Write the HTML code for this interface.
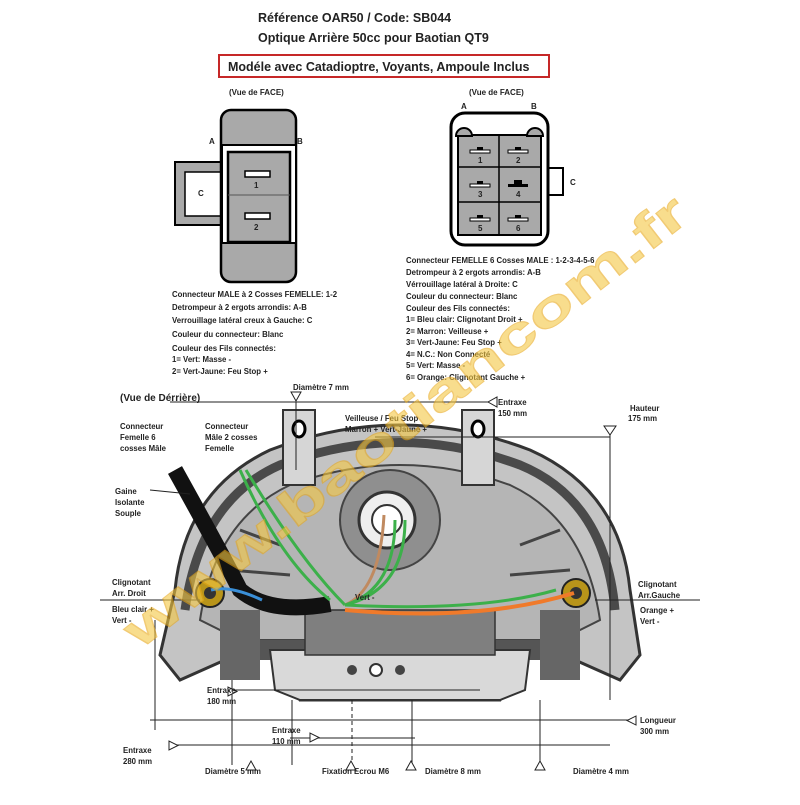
<!DOCTYPE html>
<html><head><meta charset="utf-8"><style>
html,body{margin:0;padding:0;background:#fff}
svg text{font-family:"Liberation Sans",sans-serif;font-weight:bold;fill:#222}
</style></head><body>
<svg width="800" height="800" viewBox="0 0 800 800" xmlns="http://www.w3.org/2000/svg">
<rect width="800" height="800" fill="#fff"/>
<text x="258" y="22" font-size="12.5">Référence OAR50 / Code: SB044</text>
<text x="258" y="42" font-size="12.5">Optique Arrière 50cc pour Baotian QT9</text>
<rect x="219" y="55" width="330" height="22" fill="none" stroke="#c62828" stroke-width="2"/>
<text x="228" y="71" font-size="12.5">Modéle avec Catadioptre, Voyants, Ampoule Inclus</text>

<text x="229" y="95" font-size="8">(Vue de FACE)</text>
<rect x="175" y="162" width="47" height="63" fill="#a9a9a9" stroke="#000" stroke-width="2"/>
<rect x="185" y="172" width="37" height="44" fill="#fff" stroke="#000" stroke-width="1.5"/>
<text x="198" y="196" font-size="8">C</text>
<rect x="221" y="110" width="75" height="172" rx="10" fill="#a9a9a9" stroke="#000" stroke-width="2.5"/>
<path d="M222 145 L296 145 L296 243 L222 243 Z" fill="#fff" stroke="#000" stroke-width="2"/>
<rect x="228" y="152" width="62" height="90" fill="#a9a9a9" stroke="#000" stroke-width="2.5"/>
<line x1="228" y1="195" x2="290" y2="195" stroke="#555" stroke-width="1"/>
<rect x="245" y="171" width="25" height="6" fill="#fff" stroke="#000" stroke-width="1.5"/>
<rect x="245" y="213" width="25" height="6" fill="#fff" stroke="#000" stroke-width="1.5"/>
<text x="254" y="188" font-size="8">1</text><text x="254" y="230" font-size="8">2</text>
<text x="209" y="144" font-size="8">A</text><text x="297" y="144" font-size="8">B</text>

<text x="469" y="95" font-size="8">(Vue de FACE)</text>
<text x="461" y="109" font-size="8">A</text><text x="531" y="109" font-size="8">B</text>
<rect x="546" y="168" width="17" height="27" fill="#fff" stroke="#000" stroke-width="2"/>
<text x="570" y="185" font-size="8">C</text>
<rect x="451" y="113" width="97" height="132" rx="14" fill="#fff" stroke="#000" stroke-width="3"/>
<rect x="458" y="135" width="83" height="100" fill="#a9a9a9" stroke="#000" stroke-width="2"/>
<line x1="499" y1="135" x2="499" y2="235" stroke="#000" stroke-width="1.5"/>
<line x1="458" y1="167" x2="541" y2="167" stroke="#000" stroke-width="1.5"/>
<line x1="458" y1="202" x2="541" y2="202" stroke="#000" stroke-width="1.5"/>
<path d="M456 136 a8 8 0 0 1 16 0 Z M527 136 a8 8 0 0 1 16 0Z" fill="#a9a9a9" stroke="#000" stroke-width="2"/>
<g fill="#fff" stroke="#000" stroke-width="1">
<rect x="470" y="150" width="20" height="3"/><rect x="508" y="150" width="20" height="3"/>
<rect x="470" y="184" width="20" height="3"/><rect x="470" y="218" width="20" height="3"/><rect x="508" y="218" width="20" height="3"/>
</g>
<rect x="508" y="184" width="20" height="3" fill="#000"/>
<g fill="#000"><rect x="477" y="147" width="6" height="3"/><rect x="515" y="147" width="6" height="3"/><rect x="477" y="181" width="6" height="3"/><rect x="514" y="180" width="8" height="4"/><rect x="477" y="215" width="6" height="3"/><rect x="515" y="215" width="6" height="3"/></g>
<g font-size="8"><text x="478" y="163">1</text><text x="516" y="163">2</text><text x="478" y="197">3</text><text x="516" y="197">4</text><text x="478" y="231">5</text><text x="516" y="231">6</text></g>

<g font-size="7.8">
<text x="172" y="297">Connecteur MALE à 2 Cosses FEMELLE: 1-2</text>
<text x="172" y="310">Detrompeur à 2 ergots arrondis: A-B</text>
<text x="172" y="323">Verrouillage latéral creux à Gauche: C</text>
<text x="172" y="337">Couleur du connecteur: Blanc</text>
<text x="172" y="351">Couleur des Fils connectés:</text>
<text x="172" y="362">1= Vert: Masse -</text>
<text x="172" y="374">2= Vert-Jaune: Feu Stop +</text>
<text x="406" y="263">Connecteur FEMELLE 6 Cosses MALE : 1-2-3-4-5-6</text>
<text x="406" y="275">Detrompeur à 2 ergots arrondis: A-B</text>
<text x="406" y="287">Vérrouillage latéral à Droite: C</text>
<text x="406" y="299">Couleur du connecteur: Blanc</text>
<text x="406" y="311">Couleur des Fils connectés:</text>
<text x="406" y="322">1= Bleu clair: Clignotant Droit +</text>
<text x="406" y="334">2= Marron: Veilleuse +</text>
<text x="406" y="345">3= Vert-Jaune: Feu Stop +</text>
<text x="406" y="357">4= N.C.: Non Connecté</text>
<text x="406" y="368">5= Vert: Masse -</text>
<text x="406" y="380">6= Orange: Clignotant Gauche +</text>
</g>

<path d="M160 655 L175 590 Q185 490 270 450 Q400 400 530 450 Q620 490 630 590 L640 655 L620 680 L530 640 L500 700 L300 700 L270 640 L180 680 Z" fill="#c4c4c4" stroke="#333" stroke-width="3"/>
<path d="M185 610 Q200 500 280 465 Q400 420 520 465 Q605 500 615 610" fill="none" stroke="#4a4a4a" stroke-width="9"/>
<path d="M200 620 Q215 520 290 485 Q400 445 510 485 Q585 520 600 620 L560 640 L240 640 Z" fill="#b5b5b5" stroke="#444" stroke-width="2"/>
<g stroke="#444" stroke-width="3"><line x1="240" y1="530" x2="280" y2="545"/><line x1="560" y1="530" x2="520" y2="545"/><line x1="230" y1="570" x2="290" y2="575"/><line x1="570" y1="570" x2="510" y2="575"/></g>
<rect x="283" y="410" width="32" height="75" fill="#d6d6d6" stroke="#333" stroke-width="2"/>
<rect x="462" y="410" width="32" height="75" fill="#d6d6d6" stroke="#333" stroke-width="2"/>
<ellipse cx="299" cy="429" rx="6" ry="8" fill="#fff" stroke="#000" stroke-width="3"/>
<ellipse cx="478" cy="429" rx="6" ry="8" fill="#fff" stroke="#000" stroke-width="3"/>
<circle cx="390" cy="520" r="50" fill="#8f8f8f" stroke="#444" stroke-width="2"/>
<circle cx="387" cy="520" r="28" fill="#eee" stroke="#333" stroke-width="3"/>
<circle cx="387" cy="520" r="15" fill="#fff" stroke="#333" stroke-width="2"/>
<rect x="240" y="640" width="320" height="20" fill="#555"/>
<path d="M270 650 L530 650 L525 690 L500 700 L300 700 L275 690 Z" fill="#d9d9d9" stroke="#333" stroke-width="2"/>
<rect x="305" y="610" width="190" height="45" fill="#7f7f7f" stroke="#333" stroke-width="1.5"/>
<rect x="220" y="610" width="40" height="70" fill="#666"/><rect x="540" y="610" width="40" height="70" fill="#666"/>
<circle cx="352" cy="670" r="5" fill="#444"/><circle cx="376" cy="670" r="6" fill="#fff" stroke="#333" stroke-width="2"/><circle cx="400" cy="670" r="5" fill="#444"/>
<circle cx="210" cy="593" r="14" fill="#b8941a" stroke="#222" stroke-width="2"/><circle cx="210" cy="593" r="6" fill="#333"/>
<circle cx="576" cy="593" r="14" fill="#b8941a" stroke="#222" stroke-width="2"/><circle cx="576" cy="593" r="6" fill="#333"/>

<path d="M175 470 Q225 560 240 590 Q270 615 330 604" fill="none" stroke="#111" stroke-width="16"/>
<path d="M240 470 Q280 560 330 600 M246 470 Q300 560 345 605" fill="none" stroke="#3cb04a" stroke-width="3"/>
<path d="M211 590 Q230 585 262 600" fill="none" stroke="#3a8fd8" stroke-width="3"/>
<path d="M345 605 Q380 590 384 515" fill="none" stroke="#c08a60" stroke-width="3"/>
<path d="M345 605 Q395 590 395 520 M345 605 Q405 590 405 520" fill="none" stroke="#3cb04a" stroke-width="3"/>
<path d="M345 610 Q480 622 574 593" fill="none" stroke="#f07a2a" stroke-width="4"/>
<path d="M345 605 Q480 612 556 590" fill="none" stroke="#3cb04a" stroke-width="3"/>

<g stroke="#222" stroke-width="1" fill="none">
<line x1="296" y1="402" x2="296" y2="470"/><line x1="170" y1="402" x2="490" y2="402"/>
<line x1="375" y1="437" x2="610" y2="437"/><line x1="610" y1="430" x2="610" y2="700"/>
<line x1="150" y1="720" x2="630" y2="720"/><line x1="155" y1="620" x2="155" y2="730"/>
<line x1="170" y1="745" x2="610" y2="745"/><line x1="230" y1="690" x2="480" y2="690"/>
<line x1="290" y1="738" x2="415" y2="738"/>
<line x1="232" y1="680" x2="232" y2="765"/><line x1="292" y1="700" x2="292" y2="765"/><line x1="352" y1="700" x2="352" y2="765" stroke-dasharray="4 3"/><line x1="412" y1="700" x2="412" y2="765"/><line x1="540" y1="700" x2="540" y2="765"/>
<line x1="100" y1="600" x2="200" y2="600"/><line x1="595" y1="600" x2="700" y2="600"/>
<line x1="150" y1="490" x2="190" y2="494"/>
</g>
<g fill="#fff" stroke="#222" stroke-width="1">
<path d="M291 392 h10 l-5 9z"/><path d="M497 397 v10 l-9 -5z"/><path d="M604 426 h12 l-6 9z"/>
<path d="M169 741 v9 l9-4.5z"/><path d="M228 687 v9 l9-4.5z"/><path d="M310 733 v9 l9-4.5z"/><path d="M636 716 v9 l-9-4.5z"/>
<path d="M246 770 h10 l-5-9z"/><path d="M346 770 h10 l-5-9z"/><path d="M406 770 h10 l-5-9z"/><path d="M535 770 h10 l-5-9z"/>
</g>
<g font-size="7.8">
<text x="120" y="401" font-size="10">(Vue de Dérrière)</text>
<text x="293" y="390">Diamètre 7 mm</text>
<text x="498" y="405">Entraxe</text><text x="498" y="416">150 mm</text>
<text x="630" y="411">Hauteur</text><text x="628" y="421">175 mm</text>
<text x="345" y="421">Veilleuse / Feu Stop</text><text x="345" y="432">Marron +  Vert-Jaune +</text>
<text x="120" y="429">Connecteur</text><text x="120" y="440">Femelle 6</text><text x="120" y="451">cosses Mâle</text>
<text x="205" y="429">Connecteur</text><text x="205" y="440">Mâle 2 cosses</text><text x="205" y="451">Femelle</text>
<text x="115" y="494">Gaine</text><text x="115" y="505">Isolante</text><text x="115" y="516">Souple</text>
<text x="112" y="585">Clignotant</text><text x="112" y="596">Arr. Droit</text>
<text x="112" y="612">Bleu clair +</text><text x="112" y="623">Vert -</text>
<text x="638" y="587">Clignotant</text><text x="638" y="598">Arr.Gauche</text>
<text x="640" y="613">Orange +</text><text x="640" y="624">Vert -</text>
<text x="355" y="600">Vert -</text>
<text x="207" y="693">Entraxe</text><text x="207" y="704">180 mm</text>
<text x="272" y="733">Entraxe</text><text x="272" y="744">110 mm</text>
<text x="640" y="723">Longueur</text><text x="640" y="734">300 mm</text>
<text x="123" y="753">Entraxe</text><text x="123" y="764">280 mm</text>
<text x="205" y="774">Diamètre 5 mm</text><text x="322" y="774">Fixation Ecrou M6</text>
<text x="425" y="774">Diamètre 8 mm</text><text x="573" y="774">Diamètre 4 mm</text>
</g>
<text x="140" y="650" font-size="50" textLength="700" lengthAdjust="spacingAndGlyphs" opacity="0.6" transform="rotate(-38 140 650)" style="fill:#f5c842;stroke:#e8a818;stroke-width:1">www.baotiancom.fr</text>
</svg>
</body></html>
